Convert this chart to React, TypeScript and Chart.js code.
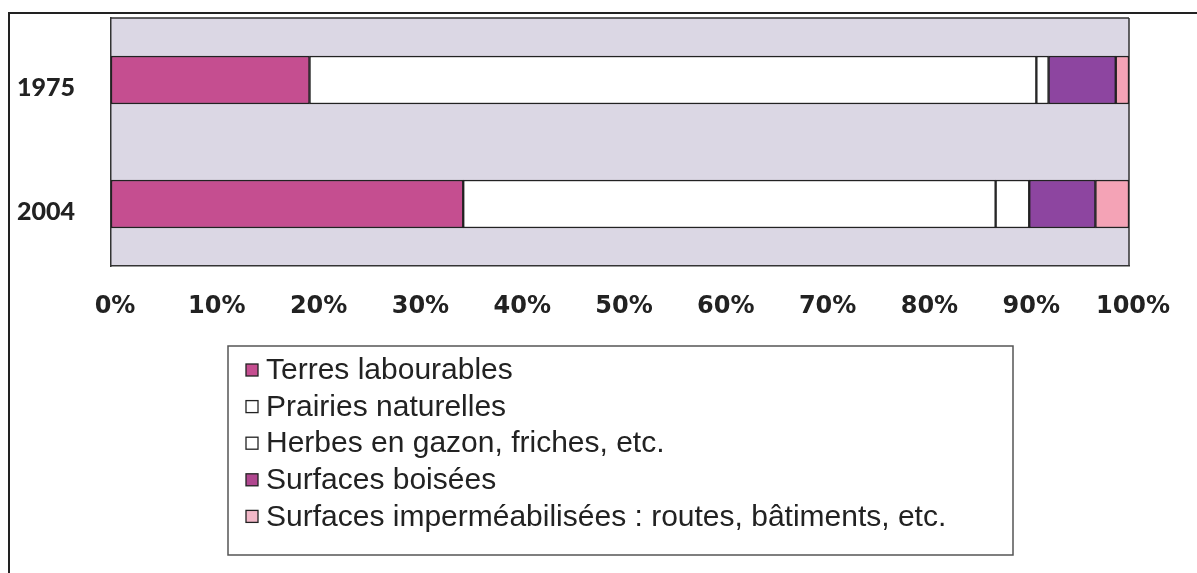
import React, { useEffect, useRef } from "react";
import { Chart, registerables } from "chart.js";

Chart.register(...registerables);

const years = ["1975", "2004"];
const seriesNames = [
  "Terres labourables",
  "Prairies naturelles",
  "Herbes en gazon, friches, etc.",
  "Surfaces boisées",
  "Surfaces imperméabilisées : routes, bâtiments, etc.",
];
const terresLabourables = [19.5, 34.6];
const prairiesNaturelles = [71.4, 52.3];
const herbesGazon = [1.2, 3.3];
const surfacesBoisees = [6.6, 6.5];
const surfacesImpermeables = [1.3, 3.3];
const xTicks = [0, 10, 20, 30, 40, 50, 60, 70, 80, 90, 100];

const colors = ["#C54E90", "#FFFFFF", "#FFFFFF", "#8D45A0", "#F4A3B6"];

const bgPlugin = {
  id: "plotBg",
  beforeDraw(chart: any) {
    const { ctx, chartArea: a } = chart;
    ctx.save();
    ctx.fillStyle = "#DBD7E4";
    ctx.fillRect(a.left, a.top, a.right - a.left, a.bottom - a.top);
    ctx.strokeStyle = "#333";
    ctx.lineWidth = 1.5;
    ctx.beginPath();
    ctx.moveTo(a.left, a.top);
    ctx.lineTo(a.right, a.top);
    ctx.moveTo(a.right, a.top);
    ctx.lineTo(a.right, a.bottom);
    ctx.stroke();
    ctx.restore();
  },
};

const legendPlugin = {
  id: "boxLegend",
  afterDraw(chart: any) {
    const { ctx } = chart;
    const left = 228, top = 346, right = 1013, bottom = 555;
    ctx.save();
    ctx.strokeStyle = "#555";
    ctx.lineWidth = 1.5;
    ctx.strokeRect(left, top, right - left, bottom - top);
    ctx.font = '30px "Liberation Sans", Arial, sans-serif';
    ctx.textBaseline = "middle";
    ctx.textAlign = "left";
    chart.data.datasets.forEach((ds: any, i: number) => {
      const y = 370 + i * 36.6;
      ctx.fillStyle = ds.legendColor;
      ctx.fillRect(246, y - 6, 12, 12);
      ctx.strokeStyle = "#222";
      ctx.lineWidth = 1.3;
      ctx.strokeRect(246, y - 6, 12, 12);
      ctx.fillStyle = "#222";
      ctx.fillText(ds.label, 266, y + 1);
    });
    ctx.restore();
  },
};

export default function App() {
  const ref = useRef<HTMLCanvasElement>(null);
  useEffect(() => {
    document.body.style.margin = "0";
    const values = [terresLabourables, prairiesNaturelles, herbesGazon, surfacesBoisees, surfacesImpermeables];
    const legendColors = ["#C54E90", "#FFFFFF", "#FFFFFF", "#B0478F", "#F2B8C8"];
    const chart = new Chart(ref.current!, {
      type: "bar",
      data: {
        labels: years,
        datasets: seriesNames.map((name, i) => ({
          label: name,
          data: values[i],
          backgroundColor: colors[i],
          borderColor: "#222",
          borderWidth: 1.5,
          borderSkipped: false,
          barThickness: 48,
          legendColor: legendColors[i],
        })) as any,
      },
      options: {
        indexAxis: "y",
        responsive: false,
        animation: false,
        layout: { padding: { left: 17, top: 17, right: 68, bottom: 247 } },
        plugins: { legend: { display: false }, tooltip: { enabled: false } },
        scales: {
          x: {
            stacked: true,
            min: 0,
            max: 100,
            afterBuildTicks: (axis: any) => {
              axis.ticks = xTicks.map((v) => ({ value: v }));
            },
            afterFit: (axis: any) => {
              axis.height = 60;
            },
            grid: { display: false, drawTicks: false },
            border: { display: true, color: "#333", width: 1.5 },
            ticks: {
              padding: 26,
              labelOffset: 4,
              color: "#222",
              font: { family: '"DejaVu Sans", Verdana, sans-serif', size: 24, weight: "bold" },
              callback: (v: any) => v + "%",
            },
          },
          y: {
            stacked: true,
            afterFit: (axis: any) => {
              axis.width = 94;
            },
            grid: { display: false, drawTicks: true, tickLength: 5, color: "#333" },
            border: { display: true, color: "#333", width: 1.5 },
            ticks: {
              crossAlign: "far",
              labelOffset: 8,
              color: "#222",
              font: { family: "Lato, sans-serif", size: 25, weight: "900" },
            },
          },
        },
      },
      plugins: [bgPlugin, legendPlugin],
    });
    return () => chart.destroy();
  }, []);
  return (
    <div style={{ position: "relative", width: 1197, height: 573, overflow: "hidden" }}>
      <canvas ref={ref} width={1197} height={573} style={{ position: "absolute", left: 0, top: 0 }} />
      <div
        style={{
          position: "absolute",
          left: 8,
          top: 12,
          width: 1189,
          height: 561,
          borderTop: "2px solid #222",
          borderLeft: "2px solid #222",
          boxSizing: "border-box",
          pointerEvents: "none",
        }}
      />
    </div>
  );
}
